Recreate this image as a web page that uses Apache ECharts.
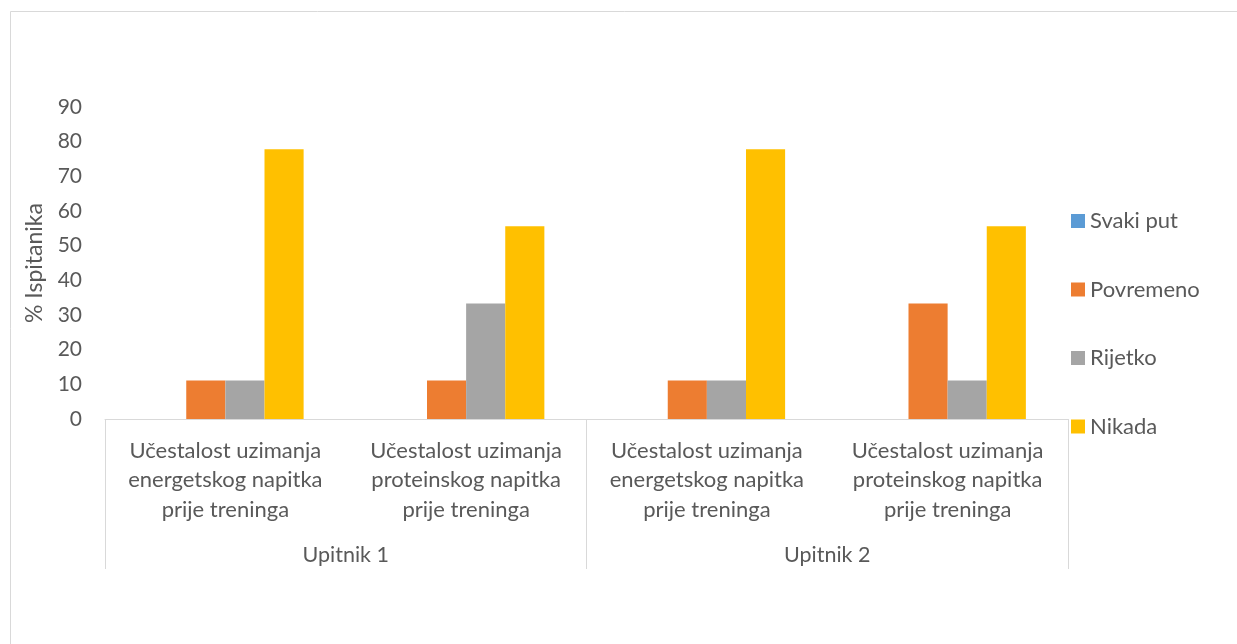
<!DOCTYPE html>
<html>
<head>
<meta charset="utf-8">
<script src="https://cdn.jsdelivr.net/npm/echarts@6/dist/echarts.min.js"></script>
<style>
html,body{margin:0;padding:0;background:#fff;}
#chart{width:1237px;height:644px;}
</style>
</head>
<body>
<div id="chart"></div>
<script>
const categories = [
  "Učestalost uzimanja\nenergetskog napitka\nprije treninga",
  "Učestalost uzimanja\nproteinskog napitka\nprije treninga",
  "Učestalost uzimanja\nenergetskog napitka\nprije treninga",
  "Učestalost uzimanja\nproteinskog napitka\nprije treninga"
];
const groups = ["Upitnik 1", "Upitnik 2"];
const seriesNames = ["Svaki put", "Povremeno", "Rijetko", "Nikada"];
const svakiPut = [0, 0, 0, 0];
const povremeno = [11.1, 11.1, 11.1, 33.3];
const rijetko = [11.1, 33.3, 11.1, 11.1];
const nikada = [77.8, 55.6, 77.8, 55.6];
const yTicks = { min: 0, max: 90, interval: 10 };

const colors = ["#5B9BD5", "#ED7D31", "#A5A5A5", "#FFC000"];
const values = [svakiPut, povremeno, rijetko, nikada];
const FONT = "Lato";
const TXT = "#595959";
const LINE = "#D9D9D9";

const chart = echarts.init(document.getElementById('chart'));
chart.setOption({
  animation: false,
  backgroundColor: '#fff',
  textStyle: { fontFamily: FONT },
  graphic: [{
    type: 'rect', shape: { x: 10.5, y: 11.5, width: 1400, height: 800 },
    style: { fill: 'none', stroke: LINE, lineWidth: 1 }, silent: true, z: -1
  }],
  grid: { left: 105, right: 169, top: 107, bottom: 225, containLabel: false },
  legend: {
    orient: 'vertical', left: 1066, top: 205,
    itemWidth: 14, itemHeight: 14, itemGap: 46.5,
    icon: 'rect',
    textStyle: { color: TXT, fontSize: 22, fontFamily: FONT },
    data: seriesNames
  },
  xAxis: [{
    type: 'category', data: categories,
    axisLine: { show: true, lineStyle: { color: LINE, width: 1 } },
    axisTick: { show: false },
    axisLabel: { color: TXT, fontSize: 22, fontFamily: FONT, lineHeight: 29.5, margin: 17, interval: 0 }
  }, {
    type: 'category', data: groups, position: 'bottom', offset: 0,
    axisLine: { show: false },
    axisTick: { show: true, length: 150, lineStyle: { color: LINE, width: 1 } },
    axisLabel: { color: TXT, fontSize: 21.5, fontFamily: FONT, margin: 125 }
  }],
  yAxis: {
    type: 'value', min: yTicks.min, max: yTicks.max, interval: yTicks.interval,
    name: '% Ispitanika', nameLocation: 'middle', nameGap: 59,
    nameTextStyle: { color: TXT, fontSize: 23, fontFamily: FONT },
    axisLine: { show: false }, axisTick: { show: false }, splitLine: { show: false },
    axisLabel: { color: TXT, fontSize: 21, fontFamily: FONT, margin: 23 }
  },
  series: seriesNames.map((n, i) => ({
    name: n, type: 'bar', data: values[i], xAxisIndex: 0,
    barGap: '0%', barCategoryGap: '35%',
    itemStyle: { color: colors[i] }
  }))
});
</script>
</body>
</html>
